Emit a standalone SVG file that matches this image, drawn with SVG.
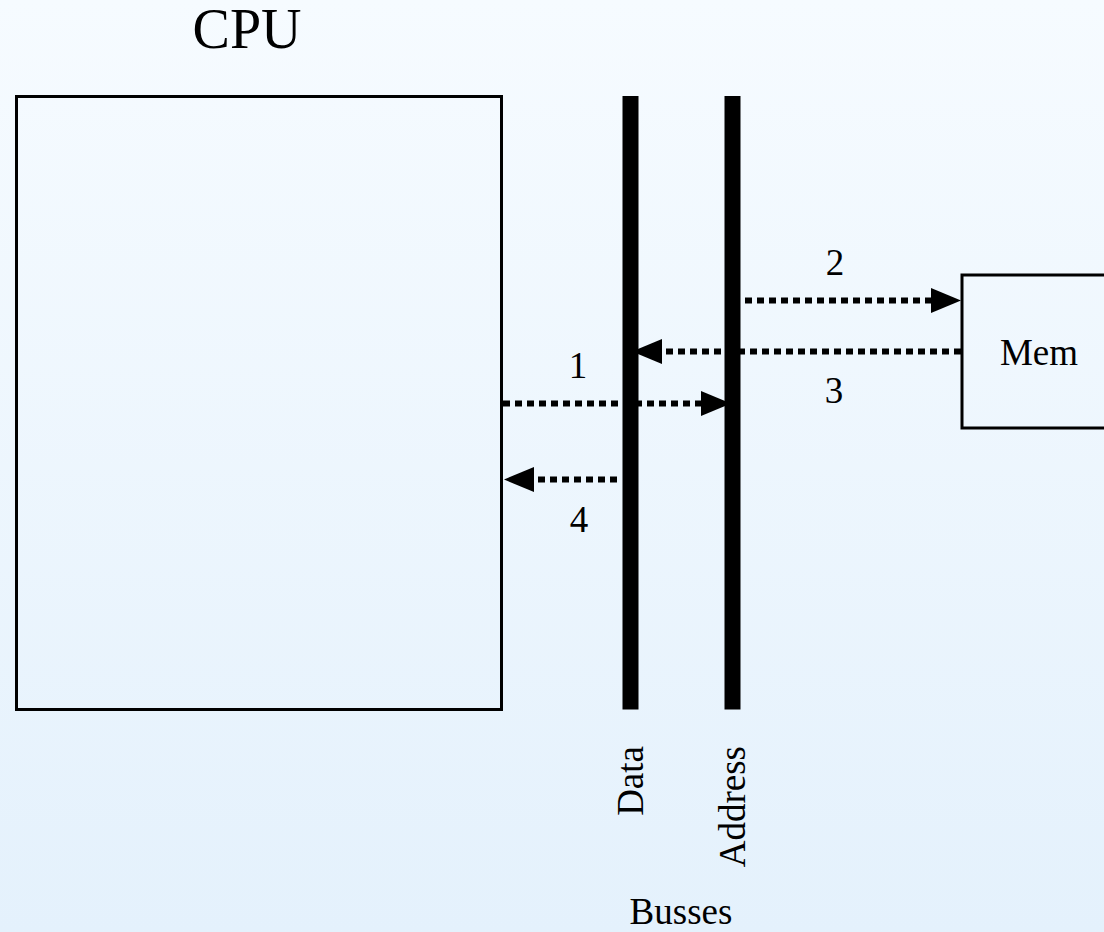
<svg xmlns="http://www.w3.org/2000/svg" width="1104" height="932" viewBox="0 0 1104 932">
  <defs>
    <linearGradient id="bg" x1="0" y1="0" x2="0" y2="1">
      <stop offset="0" stop-color="#f6fbff"/>
      <stop offset="1" stop-color="#e4f1fc"/>
    </linearGradient>
    <marker id="head" markerUnits="userSpaceOnUse" markerWidth="31" markerHeight="26" refX="0" refY="12.5" orient="auto" overflow="visible">
      <path d="M0,0 L30,12.5 L0,25 Z" fill="#000"/>
    </marker>
    <style>
      .box { fill: none; stroke: #000; stroke-width: 3; }
      .bus { fill: #000; }
      .conn { fill: none; stroke: #000; stroke-width: 6; stroke-dasharray: 7 5; marker-end: url(#head); }
      text { font-family: 'Liberation Serif', 'Times New Roman', Times, 'DejaVu Serif', serif; fill: #000; }
      .lbl { font-size: 37px; }
      .title { font-size: 56px; }
    </style>
  </defs>
  <rect x="0" y="0" width="1104" height="932" fill="url(#bg)"/>

  <g id="cpu">
    <rect class="box" x="16.5" y="96.5" width="485" height="613"/>
    <text class="title" x="247" y="48" text-anchor="middle" font-family="Liberation Serif, serif">CPU</text>
  </g>

  <g id="mem">
    <rect class="box" x="962" y="275" width="160" height="153"/>
    <text class="lbl" x="1039" y="365" text-anchor="middle" font-family="Liberation Serif, serif">Mem</text>
  </g>

  <g id="connectors">
    <line class="conn" x1="503" y1="403.5" x2="701" y2="403.5"/>
    <line class="conn" x1="745" y1="300.5" x2="931" y2="300.5"/>
    <line class="conn" x1="961" y1="351.5" x2="662" y2="351.5"/>
    <line class="conn" x1="617" y1="479.5" x2="534" y2="479.5"/>
  </g>

  <g id="data-bus">
    <rect class="bus" x="622.5" y="96" width="16" height="613.5"/>
    <text class="lbl" transform="translate(643,746) rotate(-90)" text-anchor="end" font-family="Liberation Serif, serif">Data</text>
  </g>

  <g id="address-bus">
    <rect class="bus" x="724.5" y="96" width="16" height="613.5"/>
    <text class="lbl" transform="translate(745,746) rotate(-90)" text-anchor="end" font-family="Liberation Serif, serif">Address</text>
  </g>

  <g id="labels">
    <text class="lbl" x="578" y="378" text-anchor="middle" font-family="Liberation Serif, serif">1</text>
    <text class="lbl" x="835" y="275" text-anchor="middle" font-family="Liberation Serif, serif">2</text>
    <text class="lbl" x="834" y="403" text-anchor="middle" font-family="Liberation Serif, serif">3</text>
    <text class="lbl" x="579" y="532" text-anchor="middle" font-family="Liberation Serif, serif">4</text>
    <text class="lbl" x="681" y="924" text-anchor="middle" font-family="Liberation Serif, serif">Busses</text>
  </g>
</svg>
